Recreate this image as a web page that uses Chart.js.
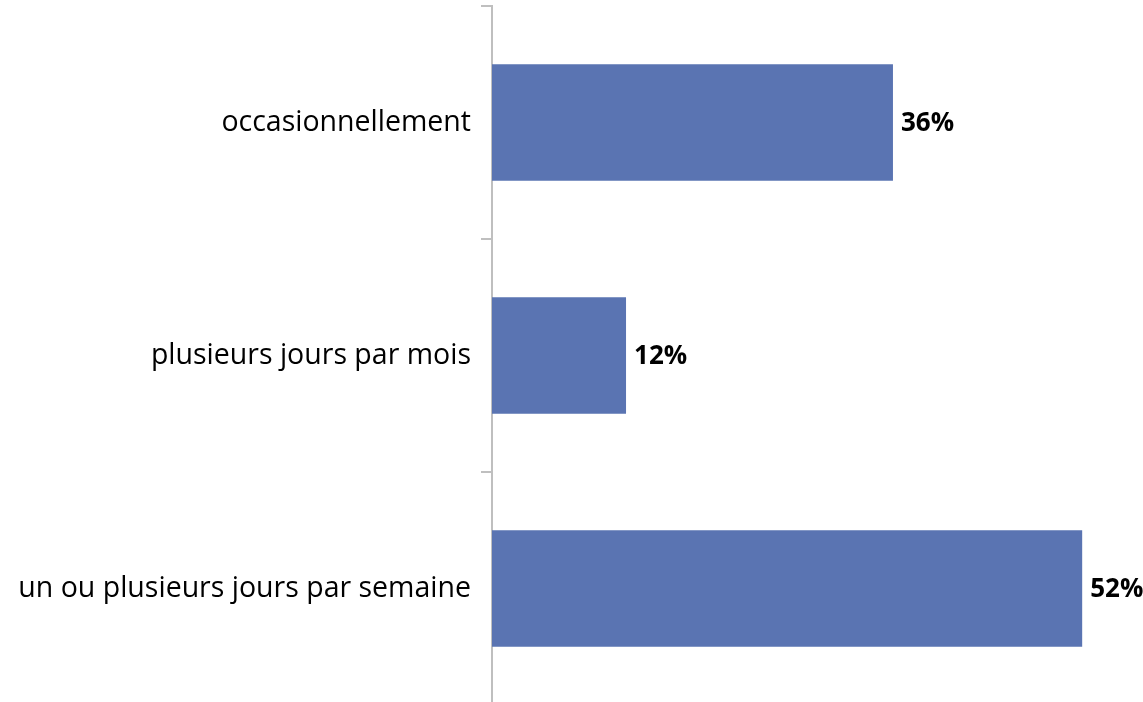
<!DOCTYPE html>
<html>
<head>
<meta charset="utf-8">
<script src="https://cdn.jsdelivr.net/npm/chart.js@4"></script>
<style>
  html, body { margin: 0; padding: 0; background: #fff; overflow: hidden; }
  #wrap { position: relative; width: 1143px; height: 705px; }
</style>
</head>
<body>
<div id="wrap"><canvas id="chart"></canvas></div>
<script>
// categories du haut vers le bas
const categories = ['occasionnellement', 'plusieurs jours par mois', 'un ou plusieurs jours par semaine'];
const values = [35.6, 11.9, 52.4];
const valueLabels = ['36%', '12%', '52%'];

const FONT = '"Open Sans", "Noto Sans", sans-serif';

// etiquettes de valeur a droite des barres
const barLabels = {
  id: 'barLabels',
  afterDatasetsDraw(chart) {
    const ctx = chart.ctx;
    const meta = chart.getDatasetMeta(0);
    ctx.save();
    ctx.font = 'bold 26px ' + FONT;
    ctx.fillStyle = '#000';
    ctx.textAlign = 'left';
    ctx.textBaseline = 'middle';
    meta.data.forEach((bar, i) => {
      ctx.fillText(valueLabels[i], bar.x + 8, bar.y + 1);
    });
    ctx.restore();
  },
};

new Chart(document.getElementById('chart'), {
  type: 'bar',
  data: {
    labels: categories,
    datasets: [{
      data: values,
      backgroundColor: '#5a74b2',
      barPercentage: 0.5,
      categoryPercentage: 1.0,
    }],
  },
  options: {
    indexAxis: 'y',
    responsive: true,
    maintainAspectRatio: false,
    animation: false,
    layout: { padding: { top: 6, right: 0, bottom: 0, left: 0 } },
    plugins: { legend: { display: false }, tooltip: { enabled: false } },
    scales: {
      x: { display: false, min: 0, max: 57.8 },
      y: {
        afterFit(scale) {
          scale.width = 492;
          scale.paddingTop = 0;
          scale.paddingBottom = 0;
        },
        grid: {
          offset: true,
          drawOnChartArea: false,
          drawTicks: true,
          tickLength: 11,
          color: '#bfbfbf',
          lineWidth: 2,
        },
        border: { display: true, color: '#bfbfbf', width: 2 },
        ticks: {
          color: '#000',
          padding: 10,
          font: { family: FONT, size: 28.5 },
        },
      },
    },
  },
  plugins: [barLabels],
});
</script>
</body>
</html>
